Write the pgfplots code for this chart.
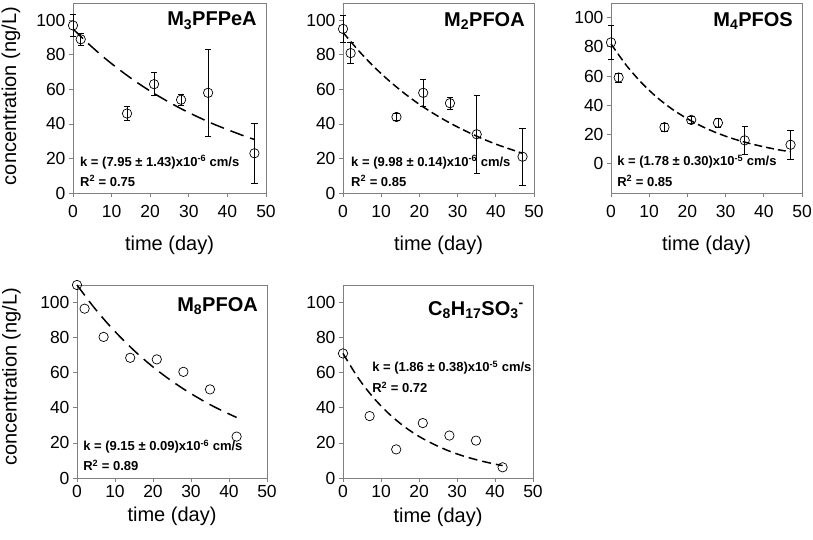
\documentclass[border=0pt]{standalone}
\usepackage{fontspec}
\setmainfont{Liberation Sans}
\usepackage{pgfplots}
\pgfplotsset{compat=1.18}
\usepackage{pgfplotstable}

% x = time (day), y = concentration (ng/L), e = error
\pgfplotstableread{
x y e
0 97 6.5
2 89 3.6
14 46 4
21 63 6.7
28 54 3
35 58 25
47 23 17.5
}\dataA
\pgfplotstableread{
x y e
0 95 8
2 81 6
14 44 2
21 58 7.8
28 52 3.5
35 34 22.5
47 21 16.5
}\dataB
\pgfplotstableread{
x y e
0 83 11.6
2 59 3
14 25 2.5
21 30 2.5
28 28 3
35 16 9.6
47 13 9.7
}\dataC
\pgfplotstableread{
x y
0 110
2 96.5
7 80.4
14 68.5
21 67.6
28 60.5
35 50.5
42 23.6
}\dataD
\pgfplotstableread{
x y
0 71
7 35.3
14 16.3
21 31.3
28 24.2
35 21.3
42 6.1
}\dataE

\pgfplotsset{
 panel/.style={
  scale only axis, anchor=south west,
  xmin=0, xmax=50, ymin=0, ymax=110,
  xtick={0,10,...,50},
  ytick={0,20,...,100},
  tick align=outside, xtick pos=bottom, ytick pos=left,
  major tick length=4pt,
  axis line style={gray, line width=0.8pt},
  every tick/.style={gray, line width=0.8pt},
  tick label style={font=\fontsize{17.5}{17.5}\selectfont, black},
  /pgf/number format/assume math mode=true,
  label style={font=\fontsize{20}{20}\selectfont},
  clip=false,
 },
 toprow/.style={xticklabel style={yshift=-5pt}},
 pts/.style={only marks, mark=o, mark size=4.7pt, black, line width=0.7pt},
 ebar/.style={error bars/.cd, y dir=both, y explicit,
   error bar style={black, line width=0.6pt},
   error mark options={rotate=90, mark size=3.2pt, black, line width=0.6pt}},
 fit/.style={black, line width=1.5pt, smooth, no marks},
}
\tikzset{
 ttl/.style={anchor=east, font=\fontsize{20}{20}\selectfont\bfseries},
 ann/.style={anchor=west, font=\fontsize{13}{13}\selectfont\bfseries, inner sep=0pt},
}

\begin{document}
\begin{tikzpicture}
\useasboundingbox (0,0) rectangle (813pt,540pt);

% Panel 1
\begin{axis}[panel, toprow, at={(73pt,347pt)}, width=193pt, height=190pt,
  ylabel={concentration (ng/L)},
  ylabel style={at={(rel axis cs:-0.322,0.51)}, anchor=center},
  xlabel={time (day)},
  xlabel style={at={(rel axis cs:0.5,-0.274)}, anchor=center}]
\addplot[fit, dash pattern=on 14pt off 7pt] coordinates {
(0,95) (4,86.4) (8,78.5) (12,71.4) (16,64.9) (20,59.0) (24,53.7) (28,48.8)
(32,44.4) (36,40.3) (40,36.7) (44,33.3) (47,31.0)};
\addplot[pts, ebar] table[x=x, y=y, y error=e] {\dataA};
\node[ttl] at (rel axis cs:0.97,0.907) {M\textsubscript{3}PFPeA};
\node[ann] at (rel axis cs:0.036,0.163) {k = (7.95 ± 1.43)x10\textsuperscript{-6} cm/s};
\node[ann] at (rel axis cs:0.036,0.063) {R\textsuperscript{2} = 0.75};
\end{axis}

% Panel 2
\begin{axis}[panel, toprow, at={(343pt,347pt)}, width=191pt, height=190pt,
  xlabel={time (day)},
  xlabel style={at={(rel axis cs:0.5,-0.274)}, anchor=center}]
\addplot[fit, dash pattern=on 8pt off 4pt] coordinates {
(0,93) (4,82.6) (8,73.3) (12,65.1) (16,57.8) (20,51.3) (24,45.6) (28,40.5)
(32,36.0) (36,31.9) (40,28.3) (44,25.2) (47,23.0)};
\addplot[pts, ebar] table[x=x, y=y, y error=e] {\dataB};
\node[ttl] at (rel axis cs:0.97,0.907) {M\textsubscript{2}PFOA};
\node[ann] at (rel axis cs:0.042,0.163) {k = (9.98 ± 0.14)x10\textsuperscript{-6} cm/s};
\node[ann] at (rel axis cs:0.042,0.063) {R\textsuperscript{2} = 0.85};
\end{axis}

% Panel 3
\begin{axis}[panel, toprow, at={(611pt,347pt)}, width=191pt, height=190pt,
  ymin=-20,
  xlabel={time (day)},
  xlabel style={at={(rel axis cs:0.5,-0.274)}, anchor=center}]
\addplot[fit, dash pattern=on 8pt off 4pt] coordinates {
(0,82) (4,67.4) (8,55.4) (12,45.5) (16,37.4) (20,30.8) (24,25.3) (28,20.8)
(32,17.1) (36,14.1) (40,11.6) (44,9.5) (47,8.2)};
\addplot[pts, ebar] table[x=x, y=y, y error=e] {\dataC};
\node[ttl] at (rel axis cs:0.97,0.907) {M\textsubscript{4}PFOS};
\node[ann] at (rel axis cs:0.032,0.163) {k = (1.78 ± 0.30)x10\textsuperscript{-5} cm/s};
\node[ann] at (rel axis cs:0.032,0.063) {R\textsuperscript{2} = 0.85};
\end{axis}

% Panel 4
\begin{axis}[panel, at={(77pt,62pt)}, width=190pt, height=193pt,
  ylabel={concentration (ng/L)},
  ylabel style={at={(rel axis cs:-0.345,0.525)}, anchor=center},
  xlabel={time (day)},
  xlabel style={at={(rel axis cs:0.5,-0.2)}, anchor=center}]
\addplot[fit, dash pattern=on 13pt off 7pt] coordinates {
(0,110) (4,98.5) (8,88.2) (12,79.0) (16,70.7) (20,63.3) (24,56.7) (28,50.8)
(32,45.5) (36,40.7) (40,36.5) (42,34.5)};
\addplot[pts] table[x=x, y=y] {\dataD};
\node[ttl] at (rel axis cs:0.97,0.89) {M\textsubscript{8}PFOA};
\node[ann] at (rel axis cs:0.032,0.162) {k = (9.15 ± 0.09)x10\textsuperscript{-6} cm/s};
\node[ann] at (rel axis cs:0.032,0.067) {R\textsuperscript{2} = 0.89};
\end{axis}

% Panel 5
\begin{axis}[panel, at={(343pt,62pt)}, width=190pt, height=193pt,
  xlabel={time (day)},
  xlabel style={at={(rel axis cs:0.5,-0.205)}, anchor=center}]
\addplot[fit, dash pattern=on 9pt off 5pt] coordinates {
(0,71) (4,57.0) (8,45.8) (12,36.8) (16,29.5) (20,23.7) (24,19.1) (28,15.3)
(32,12.3) (36,9.9) (40,7.9) (42,7.1)};
\addplot[pts] table[x=x, y=y] {\dataE};
\node[ttl] at (rel axis cs:0.97,0.87) {C\textsubscript{8}H\textsubscript{17}SO\textsubscript{3}\textsuperscript{-}};
\node[ann] at (rel axis cs:0.153,0.57) {k = (1.86 ± 0.38)x10\textsuperscript{-5} cm/s};
\node[ann] at (rel axis cs:0.153,0.47) {R\textsuperscript{2} = 0.72};
\end{axis}
\end{tikzpicture}
\end{document}
